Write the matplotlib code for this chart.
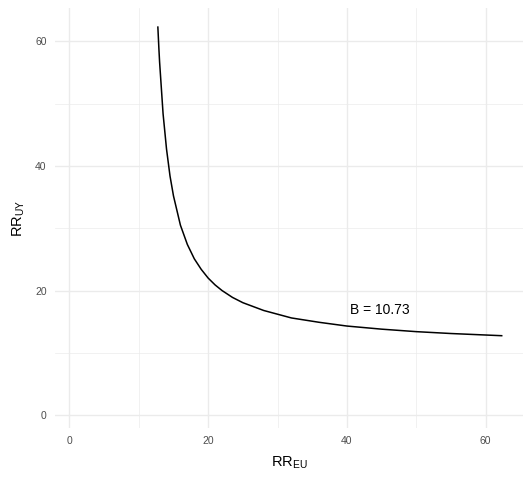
import matplotlib
matplotlib.use("Agg")
import matplotlib.pyplot as plt

plt.rcParams['mathtext.default'] = 'regular'
plt.rcParams['font.family'] = ['Liberation Sans', 'DejaVu Sans']

# bias curve for B = 10.73 (RR_EU vs RR_UY)
rr_eu = [12.75, 12.9, 13.0, 13.5, 14.0, 14.5, 15.0, 16.0, 17.0, 18.0, 19.0,
         20.0, 21.0, 22.0, 23.5, 25.0, 28.0, 32.0, 36.0, 40.0, 45.0, 50.0,
         55.0, 62.3]
rr_uy = [62.3, 58.8, 56.7, 48.4, 42.7, 38.4, 35.2, 30.5, 27.4, 25.1, 23.4,
         22.0, 20.9, 20.0, 18.9, 18.05, 16.8, 15.6, 14.9, 14.3, 13.8, 13.4,
         13.1, 12.75]
b_label = "B = 10.73"
b_pos = (44.7, 16.8)
ticks = [0, 20, 40, 60]
minor = [10, 30, 50]

fig = plt.figure(figsize=(5.25, 4.78), dpi=100)
ax = fig.add_axes([0.1048, 0.1046, 0.8914, 0.8787])

ax.plot(rr_eu, rr_uy, color='black', lw=1.1)
ax.text(b_pos[0], b_pos[1], b_label, ha='center', va='center', fontsize=10)

ax.set_xlim(-2.07, 65.37)
ax.set_ylim(-2.07, 65.37)
ax.set_xticks(ticks)
ax.set_yticks(ticks)
ax.set_xticks(minor, minor=True)
ax.set_yticks(minor, minor=True)
ax.grid(which='major', color='#EBEBEB', lw=1.0)
ax.grid(which='minor', color='#EBEBEB', lw=0.5)
ax.set_axisbelow(True)
ax.tick_params(which='both', length=0, labelsize=7.5, labelcolor='#4D4D4D', pad=6)
for s in ax.spines.values():
    s.set_visible(False)

ax.set_xlabel('RR$_{EU}$', fontsize=10.5, labelpad=6)
ax.set_ylabel('RR$_{UY}$', fontsize=10.5, labelpad=6)

fig.savefig('out.png', dpi=100)
